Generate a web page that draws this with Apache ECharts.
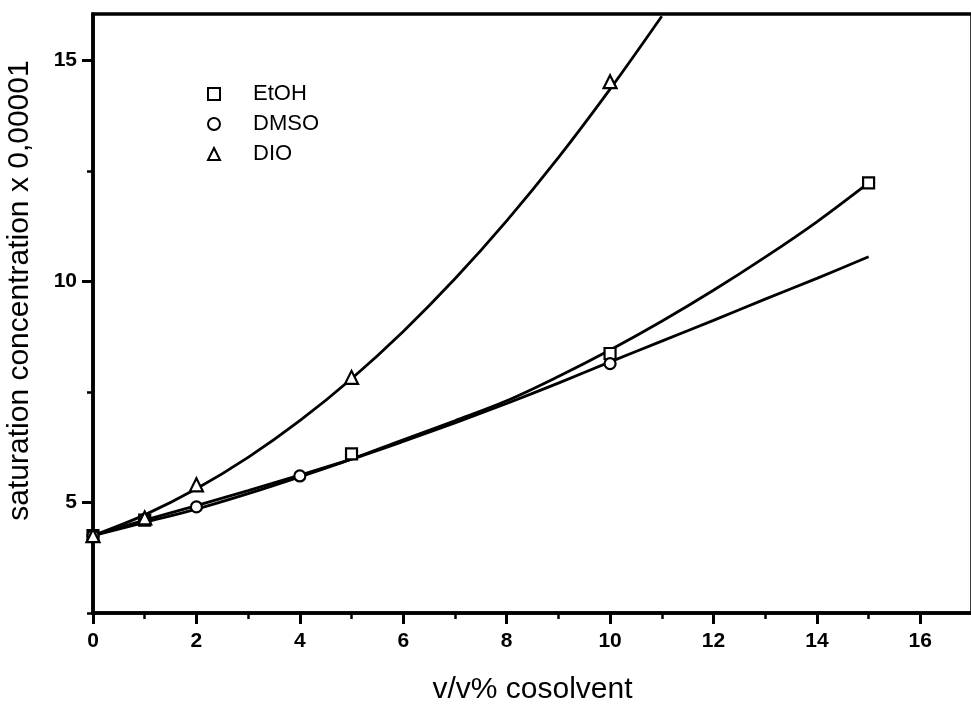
<!DOCTYPE html>
<html>
<head>
<meta charset="utf-8">
<script src="https://cdn.jsdelivr.net/npm/echarts@6/dist/echarts.min.js"></script>
<style>
  html, body { margin: 0; padding: 0; background: #fff; }
  #chart { width: 971px; height: 704px; }
</style>
</head>
<body>
<div id="chart"></div>
<script>
// Axis tick positions
const xMajorTicks = [0, 2, 4, 6, 8, 10, 12, 14, 16];
const xMinorTicks = [1, 3, 5, 7, 9, 11, 13, 15];
const yMajorTicks = [5, 10, 15];
const yMinorTicks = [2.5, 7.5, 12.5];

// Measured saturation concentrations (x 0,00001) per cosolvent content (v/v%)
const etohX = [0, 1, 5, 10, 15];
const etohY = [4.25, 4.6, 6.1, 8.37, 12.23];
const dmsoX = [0, 1, 2, 4, 10];
const dmsoY = [4.25, 4.62, 4.9, 5.6, 8.14];
const dioX = [0, 1, 2, 5, 10];
const dioY = [4.25, 4.65, 5.4, 7.83, 14.52];

// Fitted curves
const etohFitX = [0, 1, 2, 3, 4, 5, 6, 7, 8, 9, 10, 11, 12, 13, 14, 15];
const etohFitY = [4.25, 4.55, 4.85, 5.2, 5.58, 5.98, 6.42, 6.85, 7.3, 7.85, 8.45, 9.1, 9.8, 10.55, 11.35, 12.23];
const dmsoFitX = [0, 1, 2, 3, 4, 5, 6, 7, 8, 9, 10, 11, 12, 13, 14, 15];
const dmsoFitY = [4.25, 4.6, 4.93, 5.27, 5.62, 5.98, 6.38, 6.8, 7.24, 7.7, 8.18, 8.65, 9.12, 9.6, 10.07, 10.56];
const dioFitX = [0, 1, 2, 3, 4, 5, 6, 7, 8, 9, 10, 11];
const dioFitY = [4.25, 4.72, 5.31, 6.02, 6.85, 7.8, 8.87, 10.06, 11.37, 12.8, 14.35, 16.0];

const FONT = '"Liberation Sans", Arial, sans-serif';
const pairs = (xs, ys) => xs.map((x, i) => [x, ys[i]]);

const markerStyle = { color: '#fff', borderColor: '#000', borderWidth: 2.2, opacity: 1 };
const fitLine = (name, xs, ys) => ({
  name: name,
  type: 'line',
  data: pairs(xs, ys),
  smooth: 0.35,
  showSymbol: false,
  symbol: 'none',
  silent: true,
  z: 2,
  lineStyle: { color: '#000', width: 2.8 }
});
const points = (name, xs, ys, symbol, size) => ({
  name: name,
  type: 'scatter',
  data: pairs(xs, ys),
  symbol: symbol,
  symbolSize: size,
  itemStyle: markerStyle,
  z: 5
});

const chart = echarts.init(document.getElementById('chart'), null, { renderer: 'canvas' });

chart.setOption({
  animation: false,
  backgroundColor: '#fff',
  textStyle: { fontFamily: FONT, color: '#000' },
  grid: {
    show: true,
    left: 93, top: 14, width: 879, height: 599,
    containLabel: false,
    outerBoundsMode: 'none',
    borderColor: '#000', borderWidth: 3.5,
    backgroundColor: 'transparent'
  },
  legend: {
    orient: 'vertical',
    left: 202, top: 78,
    itemWidth: 12, itemHeight: 12, itemGap: 8,
    data: ['EtOH', 'DMSO', 'DIO'],
    textStyle: { fontFamily: FONT, fontSize: 22, lineHeight: 22, color: '#000', padding: [0, 0, 0, 28] }
  },
  xAxis: [
    {
      type: 'value', min: 0, max: 17, position: 'bottom',
      name: 'v/v% cosolvent', nameLocation: 'middle', nameGap: 62,
      nameTextStyle: { fontFamily: FONT, fontSize: 30, color: '#000' },
      axisLine: { show: true, lineStyle: { color: '#000', width: 3.5 } },
      axisTick: { show: true, customValues: xMajorTicks, length: 11, lineStyle: { color: '#000', width: 3 } },
      axisLabel: { customValues: xMajorTicks, fontFamily: FONT, fontSize: 21, fontWeight: 'bold', color: '#000', margin: 18 },
      splitLine: { show: false }
    },
    {
      type: 'value', min: 0, max: 17, position: 'bottom',
      axisLine: { show: false },
      axisTick: { show: true, customValues: xMinorTicks, length: 6, lineStyle: { color: '#000', width: 2.5 } },
      axisLabel: { show: false },
      splitLine: { show: false }
    }
  ],
  yAxis: [
    {
      type: 'value', min: 2.5, max: 16.05, position: 'left',
      name: 'saturation concentration x 0,00001', nameLocation: 'middle', nameGap: 58,
      nameTextStyle: { fontFamily: FONT, fontSize: 30, color: '#000', padding: [0, 0, 0, 46] },
      axisLine: { show: true, lineStyle: { color: '#000', width: 3.5 } },
      axisTick: { show: true, customValues: yMajorTicks, length: 11, lineStyle: { color: '#000', width: 3 } },
      axisLabel: { customValues: yMajorTicks, fontFamily: FONT, fontSize: 21, fontWeight: 'bold', color: '#000', margin: 16 },
      splitLine: { show: false }
    },
    {
      type: 'value', min: 2.5, max: 16.05, position: 'left',
      axisLine: { show: false },
      axisTick: { show: true, customValues: yMinorTicks, length: 6, lineStyle: { color: '#000', width: 2.5 } },
      axisLabel: { show: false },
      splitLine: { show: false }
    }
  ],
  series: [
    fitLine('EtOH fit', etohFitX, etohFitY),
    fitLine('DMSO fit', dmsoFitX, dmsoFitY),
    fitLine('DIO fit', dioFitX, dioFitY),
    points('EtOH', etohX, etohY, 'rect', 11),
    points('DMSO', dmsoX, dmsoY, 'circle', 11),
    points('DIO', dioX, dioY, 'triangle', 13)
  ]
});
</script>
</body>
</html>
